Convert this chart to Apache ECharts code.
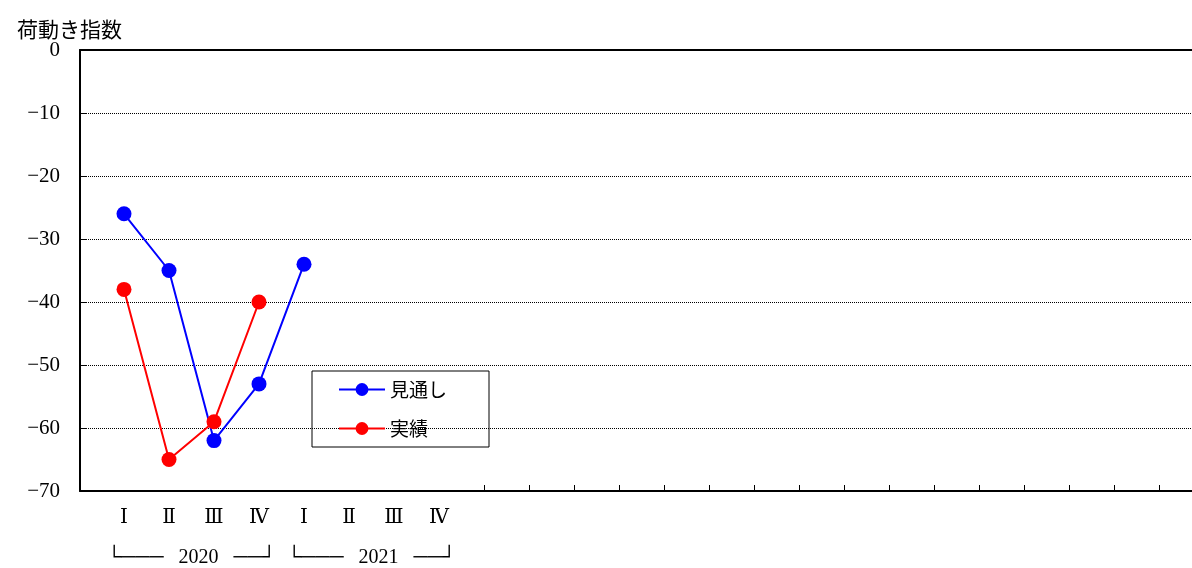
<!DOCTYPE html>
<html><head><meta charset="utf-8">
<script src="https://cdn.jsdelivr.net/npm/echarts@6/dist/echarts.min.js"></script>
<style>html,body{margin:0;padding:0;background:#fff}#c{width:1192px;height:568px}</style>
</head><body><div id="c"></div>
<script>
const quarterLabels = ['Ⅰ','Ⅱ','Ⅲ','Ⅳ','Ⅰ','Ⅱ','Ⅲ','Ⅳ'];
const yearLabels = ['2020','2021'];
const forecast = [-26, -35, -62, -53, -34];
const actual = [-38, -65, -59, -40];
const yTicks = [0,-10,-20,-30,-40,-50,-60,-70];

const font = '"Liberation Serif","DejaVu Serif","Noto Sans CJK JP",serif';
const chart = echarts.init(document.getElementById('c'));
const tickVals = [];
for (let i = 8; i < 24; i++) tickVals.push(i);
const labelVals = quarterLabels.map((_, i) => i).concat([1.5, 5.5]);
chart.setOption({
  animation: false,
  grid: {left: 80, right: 0, top: 50, bottom: 67},
  title: {text: '荷動き指数', left: 12, top: 14, textStyle: {fontSize: 21, fontWeight: 'normal', color: '#000', fontFamily: '"Noto Sans CJK JP",sans-serif'}},
  legend: {
    left: 312, top: 371, orient: 'vertical', itemGap: 20, padding: [9, 42, 9, 26],
    borderColor: '#000', borderWidth: 1, itemWidth: 46, itemHeight: 16,
    textStyle: {fontSize: 19, color: '#000', fontFamily: '"Noto Sans CJK JP",sans-serif'},
    data: ['見通し', '実績']
  },
  xAxis: [{
    type: 'value', min: -44/45, max: 1068/45,
    splitLine: {show: false},
    axisLine: {lineStyle: {color: '#000', width: 2}, onZero: false},
    axisTick: {customValues: tickVals, length: 6, inside: true, lineStyle: {color: '#000'}},
    axisLabel: {
      customValues: labelVals, margin: 17, color: '#000', fontSize: 20, fontFamily: font,
      formatter: v => {
        if (Math.abs(v - 1.5) < 0.01) return '\n\n└───   ' + yearLabels[0] + '   ──┘';
        if (Math.abs(v - 5.5) < 0.01) return '\n\n└───   ' + yearLabels[1] + '   ──┘';
        return quarterLabels[Math.round(v)];
      }
    }
  }, {
    type: 'value', position: 'top', min: 0, max: 1,
    axisLine: {show: true, onZero: false, lineStyle: {color: '#000', width: 2}},
    axisTick: {show: false}, axisLabel: {show: false}, splitLine: {show: false}
  }],
  yAxis: {
    type: 'value', min: -70, max: 0, interval: 10,
    axisLine: {show: true, onZero: false, lineStyle: {color: '#000', width: 2}},
    axisTick: {show: true, inside: true, length: 6, lineStyle: {color: '#000'}},
    axisLabel: {color: '#000', fontSize: 21, fontFamily: font, margin: 20,
      formatter: v => yTicks.includes(v) ? (v < 0 ? '−' + (-v) : String(v)) : ''},
    splitLine: {lineStyle: {color: '#000', width: 1, type: [1, 1]}}
  },
  series: [
    {name: '見通し', type: 'line', color: '#0000ff', symbol: 'circle', symbolSize: 15,
     lineStyle: {width: 2}, data: forecast.map((v, i) => [i, v])},
    {name: '実績', type: 'line', color: '#ff0000', symbol: 'circle', symbolSize: 15,
     lineStyle: {width: 2}, data: actual.map((v, i) => [i, v])}
  ]
});
</script></body></html>
